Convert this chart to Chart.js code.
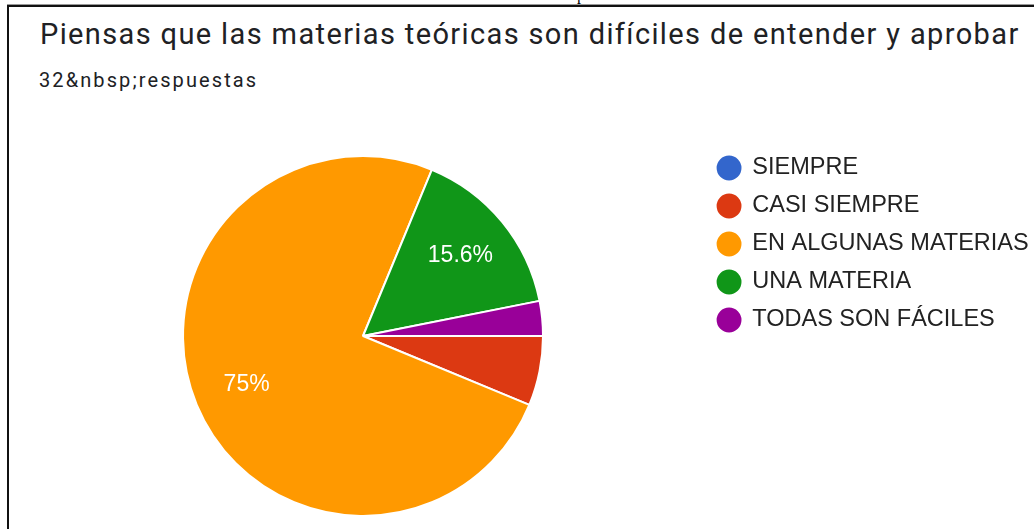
<!DOCTYPE html>
<html lang="es">
<head>
<meta charset="utf-8">
<title>Piensas que las materias teóricas son difíciles de entender y aprobar</title>
<script src="https://cdn.jsdelivr.net/npm/chart.js@4.4.1/dist/chart.umd.min.js"></script>
<style>
  html, body {
    margin: 0;
    padding: 0;
    background: #fff;
  }
  body {
    width: 1034px;
    height: 529px;
    overflow: hidden;
    position: relative;
  }
  #marco {
    position: absolute;
    left: 7px;
    top: 5px;
    width: 1100px;
    height: 600px;
    border-top: 2px solid #111;
    border-left: 2px solid #111;
    box-shadow: 0 -1px 0 #999;
  }
  #corte {
    position: absolute;
    left: 577px;
    top: -13.5px;
    font: 16px/16px "Liberation Serif", serif;
    color: #000;
  }
  #titulo {
    position: absolute;
    left: 40px;
    top: 20px;
    margin: 0;
    font: 400 29px/29px Roboto, sans-serif;
    letter-spacing: 1.37px;
    color: #202124;
    white-space: nowrap;
  }
  #subtitulo {
    position: absolute;
    left: 39px;
    top: 70px;
    font: 400 20px/20px Roboto, sans-serif;
    letter-spacing: 2.1px;
    color: #202124;
    white-space: nowrap;
  }
  #grafico {
    position: absolute;
    left: 0;
    top: 100px;
  }
</style>
</head>
<body>
<span id="corte">p</span>
<div id="marco"></div>
<h1 id="titulo">Piensas que las materias teóricas son difíciles de entender y aprobar</h1>
<div id="subtitulo">32&amp;nbsp;respuestas</div>
<canvas id="grafico" width="1044" height="432"></canvas>

<script>
const categorias = ["SIEMPRE", "CASI SIEMPRE", "EN ALGUNAS MATERIAS", "UNA MATERIA", "TODAS SON FÁCILES"]
const respuestas = [0, 2, 24, 5, 1]
const colores = ["#3366cc", "#dc3912", "#ff9900", "#109618", "#990099"]

// etiquetas de porcentaje dentro de las porciones grandes
const etiquetasPorcentaje = {
  id: "etiquetasPorcentaje",
  afterDatasetsDraw(chart) {
    const ctx = chart.ctx
    const meta = chart.getDatasetMeta(0)
    const valores = chart.data.datasets[0].data
    const total = valores.reduce((a, b) => a + b, 0)

    ctx.save()
    ctx.font = '23px "Liberation Sans", Arial, sans-serif'
    ctx.fillStyle = "#ffffff"
    ctx.textAlign = "center"
    ctx.textBaseline = "middle"

    meta.data.forEach((arco, i) => {
      const pct = valores[i] / total * 100
      if (pct < 10) return

      const medio = (arco.startAngle + arco.endAngle) / 2
      const r = arco.outerRadius * 0.7
      const texto = (Math.round(pct * 10) / 10) + "%"
      ctx.fillText(texto, arco.x + Math.cos(medio) * r, arco.y + Math.sin(medio) * r)
    })
    ctx.restore()
  }
}

new Chart(document.getElementById("grafico"), {
  type: "pie",
  data: {
    labels: categorias,
    datasets: [{
      data: respuestas,
      backgroundColor: colores,
      borderColor: "#ffffff",
      borderWidth: 2,
      radius: 180
    }]
  },
  options: {
    responsive: false,
    animation: false,
    devicePixelRatio: 1,
    rotation: 90,
    events: [],
    layout: {
      padding: { left: 23, right: 5.3, top: 41.75, bottom: 1.75 }
    },
    plugins: {
      tooltip: { enabled: false },
      legend: {
        display: true,
        position: "right",
        align: "start",
        labels: {
          usePointStyle: true,
          pointStyle: "circle",
          boxWidth: 23,
          boxHeight: 19,
          padding: 14.5,
          color: "#222222",
          font: { family: '"Liberation Sans", Arial, sans-serif', size: 23.5 }
        }
      }
    }
  },
  plugins: [etiquetasPorcentaje]
})
</script>
</body>
</html>
